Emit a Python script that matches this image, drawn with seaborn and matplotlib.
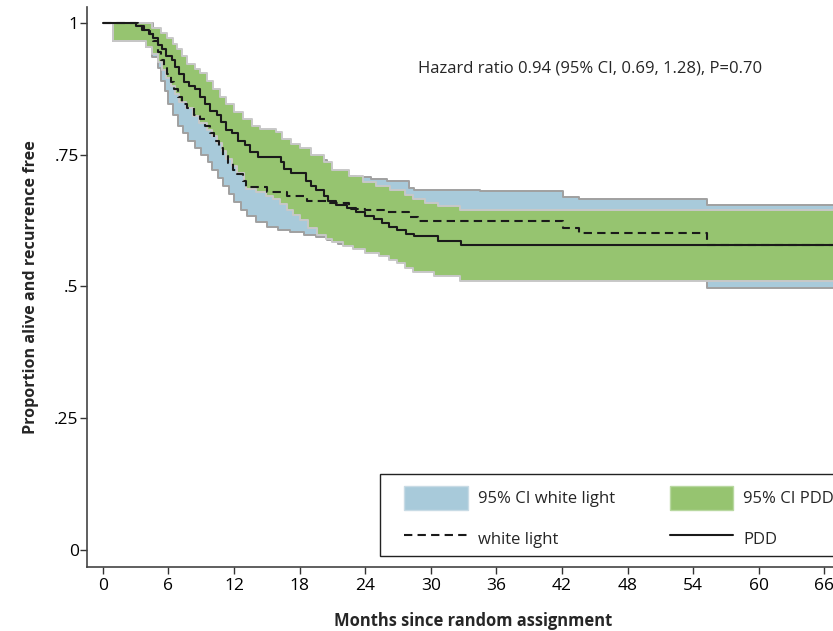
import numpy as np
import pandas as pd
import matplotlib
matplotlib.use("Agg")
import matplotlib.pyplot as plt
from matplotlib.patches import Patch, Rectangle
from matplotlib.lines import Line2D
import seaborn as sns

# Kaplan-Meier estimates (month, proportion after the step)
pdd_t = [0, 3.0, 3.6, 4.2, 4.6, 5.0, 5.4, 5.8, 6.3, 6.6, 7.0, 7.4, 7.9, 8.4, 8.9,
         9.3, 9.8, 10.4, 10.8, 11.3, 11.8, 12.4, 13.0, 13.5, 14.2, 16.3, 16.6,
         17.2, 18.6, 19.0, 19.5, 20.2, 20.6, 21.3, 22.3, 23.2, 24.0, 24.8, 25.5,
         26.2, 26.9, 27.7, 28.5, 30.7, 32.8, 70]
pdd_s = [1.0, 0.993, 0.986, 0.979, 0.972, 0.958, 0.951, 0.937, 0.93, 0.916, 0.902,
         0.888, 0.881, 0.874, 0.86, 0.846, 0.832, 0.825, 0.811, 0.797, 0.79, 0.776,
         0.769, 0.755, 0.745, 0.735, 0.722, 0.715, 0.70, 0.69, 0.683, 0.672, 0.662,
         0.655, 0.648, 0.641, 0.634, 0.627, 0.62, 0.613, 0.606, 0.599, 0.595, 0.585,
         0.578, 0.578]

wl_t = [0, 3.2, 3.8, 4.3, 4.6, 5.0, 5.3, 5.6, 5.9, 6.2, 6.5, 6.9, 7.2, 7.7, 8.3,
        8.9, 9.3, 9.8, 10.2, 10.6, 11.0, 11.4, 11.9, 12.3, 12.8, 13.1, 15.0, 16.8,
        18.7, 20.5, 22.5, 24.0, 25.8, 28.0, 28.8, 42.1, 43.6, 55.3, 70]
wl_s = [1.0, 0.993, 0.986, 0.979, 0.965, 0.944, 0.93, 0.916, 0.902, 0.888, 0.874,
        0.86, 0.846, 0.839, 0.825, 0.818, 0.804, 0.79, 0.776, 0.762, 0.748, 0.734,
        0.72, 0.713, 0.699, 0.688, 0.679, 0.671, 0.662, 0.658, 0.646, 0.644, 0.641,
        0.631, 0.624, 0.61, 0.601, 0.578, 0.578]

# 95% CI bounds, PDD
pdd_hi_t = [0.9, 4.5, 5.3, 5.9, 6.4, 6.8, 7.2, 7.7, 8.4, 8.9, 9.5, 10.1, 10.7, 11.3,
            12.0, 12.8, 13.6, 14.4, 15.8, 16.4, 17.2, 18.0, 19.0, 20.2, 21.0, 22.5,
            23.8, 25.0, 26.3, 27.6, 28.4, 29.5, 30.7, 32.7]
pdd_hi = [1.0, 0.99, 0.98, 0.972, 0.96, 0.95, 0.937, 0.922, 0.912, 0.905, 0.89,
          0.875, 0.86, 0.845, 0.83, 0.817, 0.805, 0.798, 0.793, 0.78, 0.77, 0.762,
          0.75, 0.735, 0.72, 0.71, 0.697, 0.69, 0.683, 0.673, 0.665, 0.658, 0.652,
          0.644]
pdd_lo_t = [0.9, 3.9, 4.5, 5.0, 5.4, 5.8, 6.2, 6.6, 7.0, 7.6, 8.2, 8.8, 9.5, 10.0,
            10.4, 10.9, 11.3, 11.8, 12.3, 12.9, 13.1, 14.0, 14.9, 15.6, 16.2, 16.8,
            17.4, 18.0, 18.8, 19.6, 20.4, 21.0, 22.0, 22.9, 24.0, 25.3, 26.2, 26.9,
            27.6, 28.4, 30.3, 32.7]
pdd_lo = [0.966, 0.955, 0.94, 0.925, 0.91, 0.895, 0.88, 0.865, 0.85, 0.838, 0.823,
          0.81, 0.797, 0.785, 0.772, 0.757, 0.741, 0.728, 0.715, 0.70, 0.685, 0.678,
          0.672, 0.665, 0.656, 0.645, 0.635, 0.625, 0.61, 0.597, 0.59, 0.584, 0.577,
          0.57, 0.564, 0.557, 0.55, 0.544, 0.535, 0.527, 0.519, 0.51]

# 95% CI bounds, white light
wl_hi_t = [0.9, 4.6, 5.0, 5.5, 6.0, 6.5, 7.0, 7.6, 8.3, 9.0, 9.6, 10.2, 10.8, 11.4,
           12.0, 12.7, 13.2, 15.0, 17.0, 19.0, 20.5, 21.0, 22.5, 23.2, 24.5, 26.0,
           28.0, 28.5, 34.5, 42.1, 43.6, 55.3]
wl_hi = [1.0, 0.99, 0.975, 0.96, 0.945, 0.93, 0.915, 0.90, 0.89, 0.875, 0.86, 0.845,
         0.83, 0.815, 0.80, 0.785, 0.772, 0.765, 0.755, 0.74, 0.725, 0.718, 0.709,
         0.707, 0.703, 0.70, 0.686, 0.683, 0.68, 0.669, 0.665, 0.654]
wl_lo_t = [0.9, 3.9, 4.5, 5.0, 5.3, 5.7, 6.0, 6.4, 6.9, 7.3, 7.8, 8.4, 9.0, 9.6,
           10.0, 10.5, 11.0, 11.5, 12.0, 12.6, 13.2, 14.0, 15.0, 16.0, 17.1, 18.4,
           19.5, 20.5, 21.5, 22.3, 24.0, 25.3, 26.5, 28.0, 30.0, 33.0, 42.1, 43.6,
           55.3]
wl_lo = [0.966, 0.955, 0.935, 0.915, 0.89, 0.87, 0.845, 0.825, 0.805, 0.79, 0.775,
         0.763, 0.75, 0.735, 0.72, 0.705, 0.69, 0.675, 0.66, 0.645, 0.633, 0.622,
         0.612, 0.607, 0.603, 0.598, 0.593, 0.587, 0.58, 0.578, 0.572, 0.565, 0.558,
         0.55, 0.545, 0.54, 0.53, 0.52, 0.497]

x_ticks = [0, 6, 12, 18, 24, 30, 36, 42, 48, 54, 60, 66]
y_ticks = [0, 0.25, 0.5, 0.75, 1]
y_ticklabels = ["0", ".25", ".5", ".75", "1"]
hr_text = "Hazard ratio 0.94 (95% CI, 0.69, 1.28), P=0.70"

blue = "#a8cada"
green = "#96c470"


def step_at(knots, vals, grid):
    idx = np.searchsorted(knots, grid, side="right") - 1
    return np.asarray(vals)[np.clip(idx, 0, None)]


sns.set_style("ticks")
plt.rcParams["font.family"] = ["Open Sans", "DejaVu Sans"]

fig = plt.figure(figsize=(8.33, 6.31), dpi=100)
ax = fig.add_axes([0.1044, 0.1014, 0.8956, 0.8875])

# CI bands
g = np.unique(np.r_[wl_hi_t, wl_lo_t, 70])
ax.fill_between(g, step_at(wl_lo_t, wl_lo, g), step_at(wl_hi_t, wl_hi, g), step="post",
                facecolor=blue, edgecolor="#a0a0a0", linewidth=1.4, zorder=1)
g = np.unique(np.r_[pdd_hi_t, pdd_lo_t, 70])
ax.fill_between(g, step_at(pdd_lo_t, pdd_lo, g), step_at(pdd_hi_t, pdd_hi, g), step="post",
                facecolor=green, edgecolor="#c8c8c8", linewidth=1.4, zorder=2)

# KM curves
km = pd.concat([
    pd.DataFrame({"month": wl_t, "surv": wl_s, "arm": "white light"}),
    pd.DataFrame({"month": pdd_t, "surv": pdd_s, "arm": "PDD"}),
])
sns.lineplot(data=km, x="month", y="surv", style="arm", estimator=None,
             dashes={"white light": (4, 2.5), "PDD": ""}, color="#1a1a1a",
             linewidth=1.5, drawstyle="steps-post", legend=False, ax=ax, zorder=3)

ax.set_xlim(-1.46, 66.8)
ax.set_ylim(-0.033, 1.03)
ax.set_xticks(x_ticks)
ax.set_yticks(y_ticks)
ax.set_yticklabels(y_ticklabels)
ax.tick_params(axis="both", direction="out", length=5, width=1, colors="#333333",
               labelcolor="black", labelsize=12.5)
ax.tick_params(axis="x", pad=3)
ax.tick_params(axis="y", pad=1)
sns.despine(ax=ax)
for s in ("left", "bottom"):
    ax.spines[s].set_color("#444444")
    ax.spines[s].set_linewidth(1.2)

ax.set_xlabel("Months since random assignment", fontsize=11.9, fontweight="bold")
ax.set_ylabel("Proportion alive and recurrence free", fontsize=11.6, fontweight="bold")
ax.xaxis.set_label_coords(0.518, -0.080)
ax.yaxis.set_label_coords(-0.064, 0.5)

ax.text(28.8, 0.914, hr_text, fontsize=12, va="center", ha="left")

# legend: frame drawn separately so it can run off the right edge like the original
ax.add_patch(Rectangle((0.3928, 0.0196), 0.75, 0.1465, transform=ax.transAxes,
                       facecolor="white", edgecolor="#222222", linewidth=1.0,
                       clip_on=False, zorder=4))
handles = [Patch(facecolor=blue, edgecolor="#c8dbe5"),
           Line2D([], [], color="#1a1a1a", lw=1.5, dashes=(4, 2.5)),
           Patch(facecolor=green, edgecolor="#b8d8a0"),
           Line2D([], [], color="#1a1a1a", lw=1.5)]
labels = ["95% CI white light", "white light", "95% CI PDD", "PDD"]
leg = ax.legend(handles, labels, ncol=2, loc="upper left", bbox_to_anchor=(0.4142, 0.159),
                frameon=False, fontsize=12, handlelength=3.8, handleheight=1.8,
                columnspacing=3.3, labelspacing=1.0, handletextpad=0.6, borderpad=0)
leg.set_zorder(5)

fig.savefig("out.png", dpi=100)
